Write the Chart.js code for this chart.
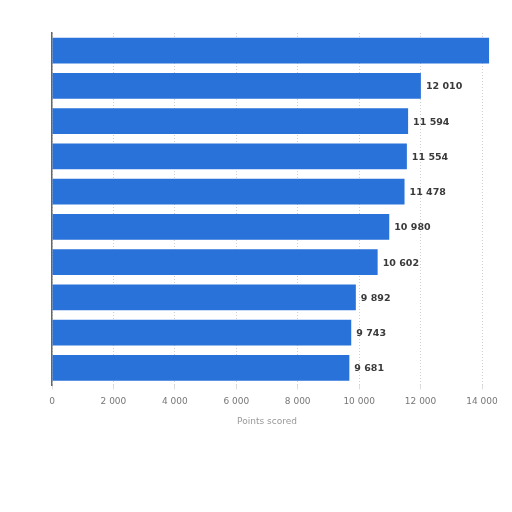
<!DOCTYPE html>
<html>
<head>
<meta charset="utf-8">
<script src="https://cdn.jsdelivr.net/npm/chart.js@4/dist/chart.umd.min.js"></script>
<style>
    html, body { margin: 0; padding: 0; background: #fff; }
    #wrap { width: 512px; height: 512px; position: relative; }
</style>
</head>
<body>
<div id="wrap"><canvas id="points-canvas" width="512" height="512"></canvas></div>
<script>
// chart data
const categories = ["1", "2", "3", "4", "5", "6", "7", "8", "9", "10"];
const points = [14230, 12010, 11594, 11554, 11478, 10980, 10602, 9892, 9743, 9681];
const x_ticks = [0, 2000, 4000, 6000, 8000, 10000, 12000, 14000];

function fmt(v) {
    return String(v).replace(/\B(?=(\d{3})+(?!\d))/g, " ");
}

// draws value labels to the right of each bar (skip bars running off the axis)
const valueLabels = {
    id: "valueLabels",
    afterDatasetsDraw(chart) {
        const ctx = chart.ctx;
        const meta = chart.getDatasetMeta(0);
        const x_max = chart.scales.x.max;
        ctx.save();
        ctx.font = "bold 9.5px 'DejaVu Sans', sans-serif";
        ctx.fillStyle = "#3a3a3a";
        ctx.textBaseline = "middle";
        meta.data.forEach(function (bar, i) {
            if (points[i] > x_max) return;
            ctx.fillText(fmt(points[i]), bar.x + 5, bar.y + 1);
        });
        ctx.restore();
    }
};

const ctx = document.getElementById("points-canvas").getContext("2d");
const points_chart = new Chart(ctx, {
    type: "bar",
    data: {
        labels: categories,
        datasets: [{
            label: "Points scored",
            data: points,
            backgroundColor: "#2872d9",
            borderWidth: 0,
            categoryPercentage: 0.73,
            barPercentage: 1,
            clip: false
        }]
    },
    options: {
        indexAxis: "y",
        responsive: false,
        animation: false,
        layout: { padding: { left: 52, right: 30, top: 33, bottom: 81 } },
        plugins: {
            legend: { display: false },
            tooltip: { enabled: false }
        },
        scales: {
            x: {
                min: 0,
                max: 14000,
                afterBuildTicks: function (axis) {
                    axis.ticks = x_ticks.map(function (v) { return { value: v }; });
                },
                ticks: {
                    color: "#777",
                    font: { family: "'DejaVu Sans', sans-serif", size: 9 },
                    padding: 7,
                    maxRotation: 0,
                    callback: function (v) { return fmt(v); }
                },
                grid: {
                    color: "#cfcfcf",
                    drawTicks: true,
                    tickLength: 4,
                    tickColor: "#ddd"
                },
                border: { display: false, dash: [1, 2] },
                title: {
                    display: true,
                    text: "Points scored",
                    color: "#999",
                    font: { family: "'DejaVu Sans', sans-serif", size: 9 },
                    padding: { top: 2 }
                }
            },
            y: {
                ticks: { display: false },
                grid: { display: false, drawTicks: false },
                border: { display: true, color: "#666", width: 1.5 }
            }
        }
    },
    plugins: [valueLabels]
});
</script>
</body>
</html>
